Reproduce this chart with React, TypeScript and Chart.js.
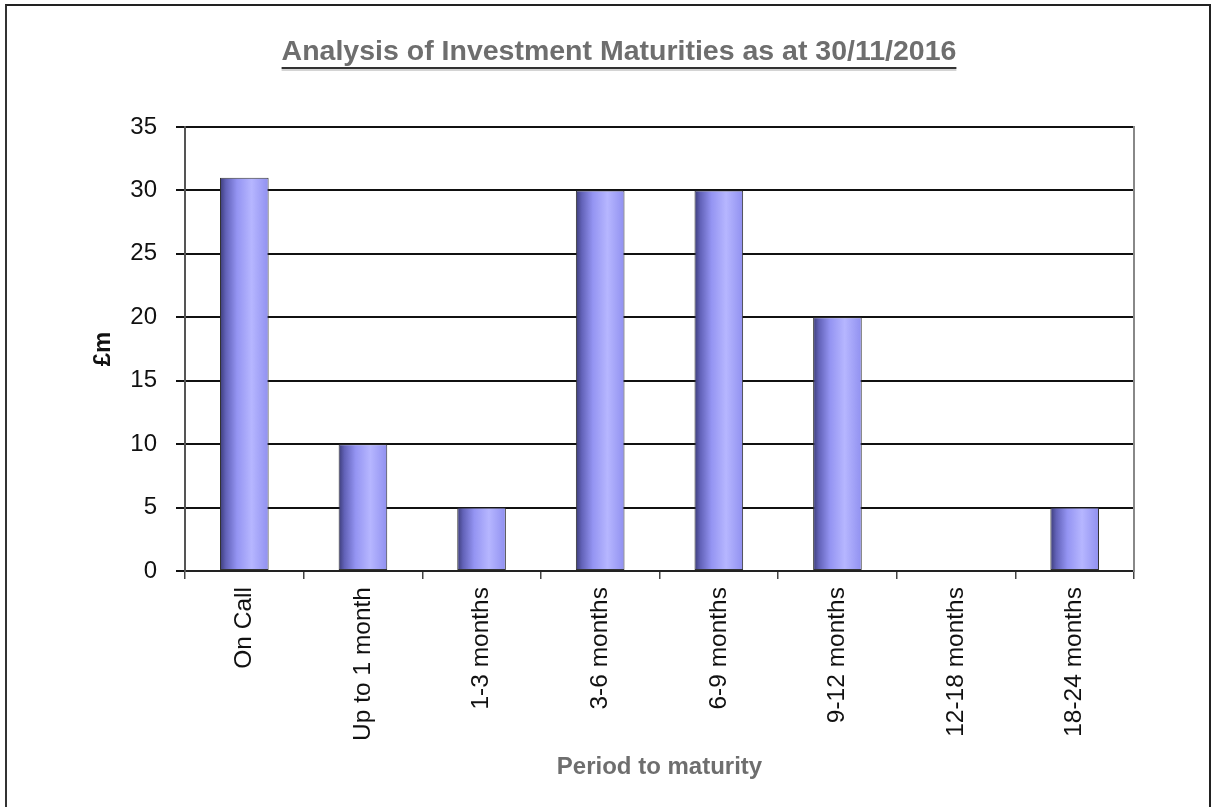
import React, { useEffect, useRef } from "react";
import { Chart, registerables } from "chart.js";

Chart.register(...registerables);

const categories = [
  "On Call",
  "Up to 1 month",
  "1-3 months",
  "3-6 months",
  "6-9 months",
  "9-12 months",
  "12-18 months",
  "18-24 months",
];
const values = [31, 10, 5, 30, 30, 20, 0, 5];
const yTicks = [0, 5, 10, 15, 20, 25, 30, 35];
const chartTitle = "Analysis of Investment Maturities as at 30/11/2016";
const xTitle = "Period to maturity";
const yTitle = "£m";

const FONT = "'Liberation Sans', Arial, sans-serif";
const BAR_FRACTION = 0.41;
const TITLE_FONT_SIZE = 28.5;

const underlinePlugin = {
  id: "titleUnderline",
  afterDraw(chart: any) {
    const tb = chart.titleBlock;
    if (!tb) return;
    const ctx = chart.ctx;
    ctx.save();
    ctx.font = `bold ${TITLE_FONT_SIZE}px ${FONT}`;
    const w = ctx.measureText(chartTitle).width;
    const cx = (tb.left + tb.right) / 2;
    const y = 62;
    ctx.strokeStyle = "#333";
    ctx.lineWidth = 2;
    ctx.beginPath();
    ctx.moveTo(cx - w / 2, y);
    ctx.lineTo(cx + w / 2, y);
    ctx.stroke();
    ctx.strokeStyle = "#aaa";
    ctx.lineWidth = 1;
    ctx.beginPath();
    ctx.moveTo(cx - w / 2, y + 2);
    ctx.lineTo(cx + w / 2, y + 2);
    ctx.stroke();
    ctx.restore();
  },
};

export default function App() {
  const canvasRef = useRef<HTMLCanvasElement | null>(null);

  useEffect(() => {
    if (!canvasRef.current) return;
    const chart = new Chart(canvasRef.current, {
      type: "bar",
      data: {
        labels: categories,
        datasets: [
          {
            data: values,
            backgroundColor: (ctx: any) => {
              const c = ctx.chart;
              const xs = c.scales && c.scales.x;
              if (!xs || ctx.dataIndex == null || !xs.width) return "#9999ff";
              const cx = xs.getPixelForValue(ctx.dataIndex);
              const w = (xs.width / categories.length) * BAR_FRACTION;
              const g = c.ctx.createLinearGradient(cx - w / 2, 0, cx + w / 2, 0);
              g.addColorStop(0, "#3c3c78");
              g.addColorStop(0.12, "#6262b8");
              g.addColorStop(0.35, "#9494f2");
              g.addColorStop(0.65, "#b6b6ff");
              g.addColorStop(1, "#9090f0");
              return g;
            },
            borderColor: "#333",
            borderWidth: 1,
            borderSkipped: false,
            categoryPercentage: 1,
            barPercentage: BAR_FRACTION,
          },
        ],
      },
      options: {
        animation: false,
        responsive: false,
        events: [],
        layout: { padding: { left: 22, right: 0, top: 0, bottom: 0 } },
        plugins: {
          legend: { display: false },
          tooltip: { enabled: false },
          title: {
            display: true,
            text: chartTitle,
            color: "#6e6e6e",
            font: { family: FONT, size: TITLE_FONT_SIZE, weight: "bold" },
            padding: { top: 29, bottom: 57.8 },
          },
        },
        scales: {
          x: {
            offset: true,
            grid: {
              display: true,
              drawOnChartArea: false,
              drawTicks: true,
              tickLength: 8,
              offset: true,
              color: "#444",
              lineWidth: 1.5,
            },
            border: { display: true, color: "#222", width: 2 },
            ticks: {
              autoSkip: false,
              maxRotation: 90,
              minRotation: 90,
              padding: 8,
              color: "#111",
              font: { family: FONT, size: 24.5 },
            },
            title: {
              display: true,
              text: xTitle,
              color: "#6e6e6e",
              font: { family: FONT, size: 24, weight: "bold" },
              padding: { top: 0, bottom: 25.6 },
            },
            afterFit: (scale: any) => {
              scale.height = 236;
            },
          },
          y: {
            min: 0,
            max: 35,
            afterBuildTicks: (scale: any) => {
              scale.ticks = yTicks.map((v) => ({ value: v }));
            },
            grid: {
              color: "#111",
              lineWidth: 2,
              drawTicks: true,
              tickLength: 9,
            },
            border: { display: true, color: "#555", width: 2 },
            ticks: {
              padding: 19,
              color: "#111",
              font: { family: FONT, size: 24 },
            },
            title: {
              display: true,
              text: yTitle,
              color: "#111",
              font: { family: FONT, size: 24, weight: "bold" },
              padding: { top: 60, bottom: 0 },
            },
            afterFit: (scale: any) => {
              scale.width = 156;
            },
          },
          right: {
            position: "right",
            display: true,
            grid: { display: false, drawTicks: false },
            border: { display: true, color: "#888", width: 2 },
            ticks: { display: false },
            afterFit: (scale: any) => {
              scale.width = 75;
            },
          },
        },
      },
      plugins: [underlinePlugin],
    } as any);
    return () => chart.destroy();
  }, []);

  return (
    <div
      style={{
        position: "absolute",
        left: 5,
        top: 4,
        width: 1202,
        height: 801,
        borderTop: "2px solid #222",
        borderLeft: "2px solid #333",
        borderRight: "2px solid #222",
        background: "#fff",
      }}
    >
      <canvas ref={canvasRef} width={1202} height={801} style={{ display: "block" }} />
    </div>
  );
}
